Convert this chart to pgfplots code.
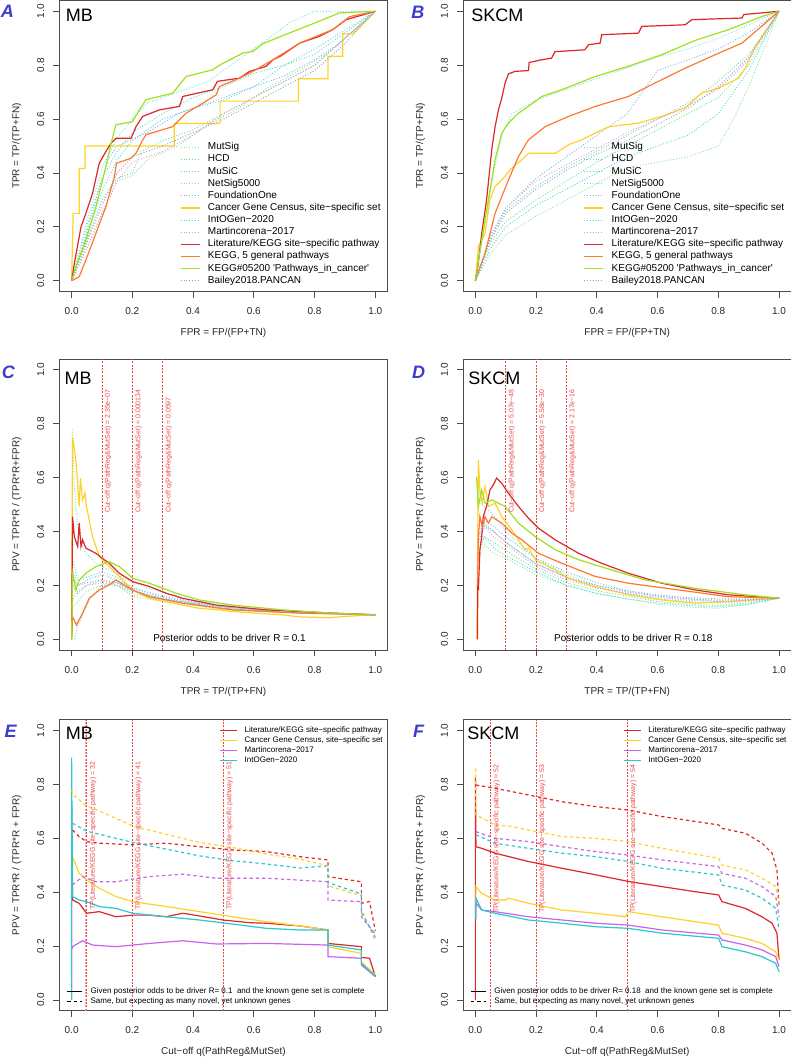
\documentclass[border=0pt]{standalone}
\usepackage{fontspec}
\setmainfont{Liberation Sans}[Ligatures=TeXOff]
\usepackage{pgfplots}
\pgfplotsset{compat=1.18}

\definecolor{litred}{RGB}{220,40,40}
\definecolor{cgcyel}{RGB}{255,210,40}
\definecolor{korange}{RGB}{255,120,50}
\definecolor{kgreen}{RGB}{160,225,30}
\definecolor{mviolet}{RGB}{200,100,235}
\definecolor{icyan}{RGB}{40,200,205}
\definecolor{cMutSig}{RGB}{140,230,140}
\definecolor{cHCD}{RGB}{100,225,140}
\definecolor{cMuSiC}{RGB}{90,220,190}
\definecolor{cNetSig}{RGB}{110,225,225}
\definecolor{cFound}{RGB}{120,180,235}
\definecolor{cIntO}{RGB}{80,215,215}
\definecolor{cMart}{RGB}{225,150,225}
\definecolor{cBailey}{RGB}{150,160,190}
\definecolor{cutred}{RGB}{235,70,70}
\definecolor{lblue}{RGB}{60,60,205}

\tikzset{
  dotl/.style={line width=0.7pt, dash pattern=on 0.7pt off 1.4pt},
  sol/.style={line width=0.9pt},
  dsh/.style={line width=0.9pt, dash pattern=on 2.5pt off 2.2pt},
  cut/.style={line width=0.5pt, cutred, dash pattern=on 1.5pt off 1pt},
  panellabel/.style={font=\fontsize{13.5}{14}\selectfont\bfseries\itshape, text=lblue, inner sep=0pt},
  cancer/.style={font=\fontsize{13.5}{14}\selectfont, anchor=west, inner sep=0pt},
  cuttext/.style={rotate=90, anchor=north west, font=\fontsize{5.2}{6}\selectfont, text=cutred, inner xsep=0pt, inner ysep=2pt},
  oddstext/.style={font=\fontsize{7.5}{9}\selectfont, inner sep=0pt},
}

\pgfplotsset{
  panel/.style={
    scale only axis, width=246pt, height=218.25pt, anchor=south west,
    xmin=-0.04, xmax=1.04, ymin=-0.04, ymax=1.04, clip=false,
    xtick={0,0.2,0.4,0.6,0.8,1}, ytick={0,0.2,0.4,0.6,0.8,1},
    xticklabels={0.0,0.2,0.4,0.6,0.8,1.0}, yticklabels={0.0,0.2,0.4,0.6,0.8,1.0},
    tick align=outside, tick pos=left, major tick length=4.5pt,
    axis line style={line width=0.75pt, black!70},
    tick style={line width=0.6pt, black!70},
    tick label style={font=\fontsize{7.5}{9}\selectfont, text=black!85},
    yticklabel style={rotate=90, anchor=south},
    xticklabel shift=4pt, yticklabel shift=3.4pt,
    label style={font=\fontsize{7.5}{9}\selectfont, text=black!85},
    xlabel style={at={(axis description cs:0.5,-0.143)}, anchor=center},
    ylabel style={at={(axis description cs:-0.13,0.5)}, anchor=center},
  },
  bigleg/.style={
    legend style={at={(0.367,0.515)}, anchor=north west, draw=none, fill=none,
      inner sep=0pt, row sep=1.1pt, font=\fontsize{7.5}{9}\selectfont,
      nodes={inner sep=0.5pt, text height=5.4pt, text depth=1.6pt}},
    legend cell align=left,
    legend image code/.code={\draw[##1] (0pt,0pt) -- (14.25pt,0pt); \path (19.5pt,0pt);},
  },
  smallleg/.style={
    legend style={at={(0.488,0.979)}, anchor=north west, draw=none, fill=none,
      inner sep=0pt, row sep=0.9pt, font=\fontsize{6}{7}\selectfont,
      nodes={inner sep=0.5pt, text height=4.3pt, text depth=1.3pt}},
    legend cell align=left,
    legend image code/.code={\draw[##1] (0pt,0pt) -- (12.75pt,0pt); \path (17.25pt,0pt);},
  },
  noteleg/.style={
    hide axis,
    legend style={at={(0.022,0.082)}, anchor=north west, draw=none, fill=none,
      inner sep=0pt, row sep=0.9pt, font=\fontsize{6}{7}\selectfont,
      nodes={inner sep=0.5pt, text height=4.3pt, text depth=1.3pt}},
    legend cell align=left,
    legend image code/.code={\draw[##1] (0pt,0pt) -- (11.25pt,0pt); \path (16.5pt,0pt);},
  },
}

\begin{document}
\begin{tikzpicture}
\path[use as bounding box] (0,0) rectangle (593.25pt,794.25pt);

% ---------------- A: MB ROC ----------------
\begin{axis}[panel, bigleg, at={(44.6pt,575.6pt)},
  xlabel={FPR = FP/(FP+TN)}, ylabel={TPR = TP/(TP+FN)}]
\addplot[dotl,cMutSig] coordinates {(0,0) (0.05,0.12) (0.1,0.25) (0.15,0.37) (0.2,0.39) (0.25,0.45) (0.35,0.5) (0.45,0.58) (0.55,0.64) (0.65,0.72) (0.75,0.78) (0.85,0.85) (0.95,0.95) (1,1)};
\addlegendentry{MutSig}
\addplot[dotl,cHCD] coordinates {(0,0) (0.05,0.15) (0.1,0.3) (0.15,0.38) (0.2,0.4) (0.23,0.48) (0.3,0.52) (0.4,0.56) (0.5,0.62) (0.6,0.68) (0.7,0.74) (0.8,0.8) (0.9,0.9) (1,1)};
\addlegendentry{HCD}
\addplot[dotl,cMuSiC] coordinates {(0,0) (0.05,0.2) (0.1,0.38) (0.15,0.48) (0.2,0.55) (0.3,0.62) (0.4,0.68) (0.5,0.72) (0.6,0.77) (0.7,0.8) (0.8,0.84) (0.9,0.92) (1,1)};
\addlegendentry{MuSiC}
\addplot[dotl,cNetSig] coordinates {(0,0) (0.05,0.22) (0.1,0.42) (0.15,0.53) (0.2,0.6) (0.25,0.66) (0.35,0.7) (0.45,0.74) (0.55,0.82) (0.65,0.9) (0.72,0.96) (0.8,1) (1,1)};
\addlegendentry{NetSig5000}
\addplot[dotl,cFound] coordinates {(0,0) (0.03,0.1) (0.08,0.3) (0.12,0.45) (0.15,0.5) (0.25,0.55) (0.35,0.62) (0.5,0.68) (0.6,0.72) (0.7,0.76) (0.8,0.82) (0.88,0.88) (0.92,0.92) (1,1)};
\addlegendentry{FoundationOne}
\addplot[sol,cgcyel] coordinates {(0,0) (0.005,0.25) (0.025,0.25) (0.025,0.4167) (0.044,0.4167) (0.044,0.5) (0.338,0.5) (0.338,0.5833) (0.489,0.5833) (0.489,0.6667) (0.747,0.6667) (0.747,0.75) (0.844,0.75) (0.844,0.8333) (0.893,0.8333) (0.893,0.9167) (0.926,0.9167) (1,1)};
\addlegendentry{Cancer Gene Census, site−specific set}
\addplot[dotl,cIntO] coordinates {(0,0) (0.05,0.17) (0.1,0.33) (0.15,0.45) (0.2,0.52) (0.3,0.6) (0.4,0.64) (0.5,0.67) (0.6,0.72) (0.7,0.8) (0.8,0.86) (0.9,0.93) (1,1)};
\addlegendentry{IntOGen−2020}
\addplot[dotl,cMart] coordinates {(0,0) (0.05,0.12) (0.1,0.25) (0.15,0.37) (0.2,0.44) (0.3,0.48) (0.4,0.54) (0.5,0.62) (0.6,0.68) (0.7,0.74) (0.8,0.8) (0.9,0.9) (1,1)};
\addlegendentry{Martincorena−2017}
\addplot[sol,litred] coordinates {(0,0) (0.009,0.064) (0.031,0.2) (0.047,0.25) (0.069,0.325) (0.091,0.436) (0.113,0.48) (0.13,0.51) (0.146,0.529) (0.196,0.529) (0.212,0.572) (0.234,0.61) (0.289,0.634) (0.355,0.647) (0.366,0.684) (0.465,0.709) (0.48,0.74) (0.553,0.752) (0.586,0.777) (0.641,0.796) (0.663,0.82) (0.687,0.833) (0.751,0.882) (0.816,0.907) (0.86,0.932) (0.904,0.969) (1,1)};
\addlegendentry{Literature/KEGG site−specific pathway}
\addplot[sol,korange] coordinates {(0,0) (0.025,0.015) (0.047,0.077) (0.08,0.176) (0.113,0.275) (0.141,0.387) (0.148,0.436) (0.196,0.455) (0.212,0.473) (0.234,0.523) (0.245,0.542) (0.333,0.572) (0.377,0.622) (0.432,0.659) (0.476,0.69) (0.487,0.721) (0.553,0.752) (0.597,0.777) (0.663,0.82) (0.751,0.882) (0.86,0.932) (0.915,0.98) (1,1)};
\addlegendentry{KEGG, 5 general pathways}
\addplot[sol,kgreen] coordinates {(0,0) (0.014,0.052) (0.047,0.151) (0.08,0.275) (0.113,0.424) (0.13,0.51) (0.146,0.579) (0.2,0.59) (0.223,0.634) (0.245,0.672) (0.333,0.696) (0.377,0.758) (0.465,0.783) (0.487,0.8) (0.564,0.845) (0.597,0.851) (0.63,0.88) (0.718,0.92) (0.795,0.954) (0.882,0.994) (1,1)};
\addlegendentry{KEGG\#05200 'Pathways\_in\_cancer'}
\addplot[dotl,cBailey] coordinates {(0,0) (0.05,0.14) (0.1,0.28) (0.15,0.4) (0.2,0.46) (0.3,0.5) (0.4,0.55) (0.5,0.6) (0.6,0.66) (0.7,0.72) (0.8,0.78) (0.9,0.88) (1,1)};
\addlegendentry{Bailey2018.PANCAN}
\node[panellabel] at (axis description cs:-0.159,0.964) {A};
\node[cancer] at (axis cs:-0.02,0.985) {MB};
\end{axis}

% ---------------- B: SKCM ROC ----------------
\begin{axis}[panel, bigleg, at={(347.4pt,575.6pt)},
  xlabel={FPR = FP/(FP+TN)}, ylabel={TPR = TP/(TP+FN)}]
\addplot[dotl,cMutSig] coordinates {(0,0) (0.05,0.1) (0.1,0.17) (0.2,0.24) (0.3,0.3) (0.4,0.36) (0.5,0.42) (0.6,0.44) (0.7,0.46) (0.8,0.5) (0.85,0.6) (0.9,0.72) (0.95,0.86) (1,1)};
\addlegendentry{MutSig}
\addplot[dotl,cHCD] coordinates {(0,0) (0.05,0.14) (0.1,0.22) (0.2,0.3) (0.3,0.37) (0.4,0.44) (0.5,0.5) (0.6,0.56) (0.7,0.62) (0.8,0.68) (0.9,0.8) (1,1)};
\addlegendentry{HCD}
\addplot[dotl,cMuSiC] coordinates {(0,0) (0.05,0.16) (0.1,0.26) (0.2,0.35) (0.3,0.42) (0.4,0.48) (0.5,0.54) (0.6,0.6) (0.7,0.66) (0.8,0.74) (0.9,0.84) (1,1)};
\addlegendentry{MuSiC}
\addplot[dotl,cNetSig] coordinates {(0,0) (0.03,0.2) (0.06,0.4) (0.09,0.55) (0.12,0.62) (0.2,0.67) (0.3,0.71) (0.4,0.75) (0.5,0.79) (0.6,0.83) (0.7,0.86) (0.8,0.9) (0.9,0.95) (1,1)};
\addlegendentry{NetSig5000}
\addplot[dotl,cFound] coordinates {(0,0) (0.05,0.16) (0.1,0.27) (0.2,0.38) (0.3,0.46) (0.4,0.54) (0.5,0.62) (0.55,0.7) (0.6,0.78) (0.7,0.82) (0.8,0.86) (0.9,0.92) (1,1)};
\addlegendentry{FoundationOne}
\addplot[sol,cgcyel] coordinates {(0,0) (0.01,0.126) (0.032,0.176) (0.048,0.3) (0.065,0.349) (0.087,0.374) (0.12,0.418) (0.153,0.449) (0.175,0.473) (0.263,0.473) (0.307,0.505) (0.351,0.523) (0.395,0.548) (0.44,0.572) (0.537,0.585) (0.614,0.61) (0.691,0.641) (0.746,0.697) (0.801,0.715) (0.867,0.752) (0.889,0.789) (0.922,0.87) (1,1)};
\addlegendentry{Cancer Gene Census, site−specific set}
\addplot[dotl,cIntO] coordinates {(0,0) (0.05,0.12) (0.1,0.2) (0.2,0.28) (0.3,0.34) (0.4,0.4) (0.5,0.46) (0.6,0.5) (0.7,0.54) (0.8,0.62) (0.9,0.78) (1,1)};
\addlegendentry{IntOGen−2020}
\addplot[dotl,cMart] coordinates {(0,0) (0.05,0.17) (0.1,0.27) (0.2,0.37) (0.3,0.43) (0.4,0.49) (0.5,0.55) (0.6,0.6) (0.7,0.65) (0.8,0.71) (0.9,0.82) (1,1)};
\addlegendentry{Martincorena−2017}
\addplot[sol,litred] coordinates {(0,0) (0.008,0.05) (0.021,0.176) (0.037,0.3) (0.054,0.486) (0.065,0.572) (0.076,0.634) (0.087,0.678) (0.098,0.734) (0.109,0.768) (0.131,0.777) (0.175,0.78) (0.177,0.81) (0.218,0.82) (0.251,0.826) (0.262,0.85) (0.36,0.857) (0.373,0.876) (0.411,0.882) (0.416,0.913) (0.537,0.919) (0.548,0.944) (0.691,0.95) (0.713,0.969) (0.878,0.975) (0.884,0.988) (1,1)};
\addlegendentry{Literature/KEGG site−specific pathway}
\addplot[sol,korange] coordinates {(0,0) (0.032,0.102) (0.065,0.25) (0.109,0.374) (0.142,0.461) (0.175,0.523) (0.23,0.572) (0.307,0.61) (0.395,0.647) (0.504,0.684) (0.592,0.734) (0.68,0.783) (0.79,0.839) (0.878,0.882) (1,1)};
\addlegendentry{KEGG, 5 general pathways}
\addplot[sol,kgreen] coordinates {(0,0) (0.021,0.151) (0.043,0.3) (0.065,0.449) (0.087,0.548) (0.109,0.585) (0.142,0.622) (0.175,0.647) (0.219,0.684) (0.285,0.709) (0.395,0.758) (0.504,0.796) (0.614,0.839) (0.724,0.892) (0.834,0.932) (0.944,0.981) (1,1)};
\addlegendentry{KEGG\#05200 'Pathways\_in\_cancer'}
\addplot[dotl,cBailey] coordinates {(0,0) (0.05,0.15) (0.1,0.25) (0.2,0.34) (0.3,0.41) (0.4,0.47) (0.5,0.52) (0.6,0.58) (0.7,0.64) (0.8,0.72) (0.9,0.83) (1,1)};
\addlegendentry{Bailey2018.PANCAN}
\node[panellabel] at (axis description cs:-0.138,0.96) {B};
\node[cancer] at (axis cs:-0.014,0.985) {SKCM};
\end{axis}

% ---------------- C: MB PPV vs TPR ----------------
\begin{axis}[panel, at={(44.6pt,306.7pt)},
  xlabel={TPR = TP/(TP+FN)}, ylabel={PPV = TPR*R / (TPR*R+FPR)}]
\addplot[cut] coordinates {(0.1,-0.04) (0.1,1.04)};
\addplot[cut] coordinates {(0.2,-0.04) (0.2,1.04)};
\addplot[cut] coordinates {(0.3,-0.04) (0.3,1.04)};
\addplot[dotl,cMutSig] coordinates {(0.005,0.12) (0.02,0.14) (0.05,0.18) (0.1,0.2) (0.15,0.2) (0.2,0.16) (0.3,0.14) (0.5,0.11) (0.7,0.1) (1,0.0909)};
\addplot[dotl,cHCD] coordinates {(0.005,0.2) (0.02,0.17) (0.05,0.2) (0.1,0.22) (0.15,0.2) (0.2,0.17) (0.3,0.145) (0.5,0.115) (0.7,0.1) (1,0.0909)};
\addplot[dotl,cMuSiC] coordinates {(0.003,0.3) (0.02,0.22) (0.05,0.23) (0.1,0.25) (0.15,0.23) (0.2,0.19) (0.3,0.155) (0.5,0.12) (0.7,0.105) (1,0.0909)};
\addplot[dotl,cNetSig] coordinates {(0.002,0.78) (0.01,0.55) (0.02,0.42) (0.04,0.33) (0.08,0.28) (0.12,0.26) (0.18,0.22) (0.25,0.19) (0.4,0.145) (0.6,0.115) (0.8,0.1) (1,0.0909)};
\addplot[dotl,cFound] coordinates {(0.005,0.25) (0.02,0.2) (0.05,0.22) (0.1,0.24) (0.15,0.22) (0.2,0.19) (0.3,0.16) (0.5,0.12) (0.7,0.105) (1,0.0909)};
\addplot[sol,cgcyel] coordinates {(0,0) (0.003,0.752) (0.014,0.666) (0.025,0.493) (0.029,0.598) (0.036,0.517) (0.044,0.542) (0.049,0.493) (0.069,0.381) (0.091,0.307) (0.124,0.27) (0.157,0.233) (0.201,0.183) (0.256,0.152) (0.333,0.134) (0.42,0.115) (0.487,0.109) (0.53,0.103) (0.7,0.09) (0.75,0.083) (0.85,0.08) (0.9,0.085) (1,0.0909)};
\addplot[dotl,cIntO] coordinates {(0.01,0.0) (0.02,0.05) (0.04,0.1) (0.06,0.15) (0.1,0.2) (0.15,0.21) (0.2,0.18) (0.3,0.15) (0.5,0.115) (0.7,0.1) (1,0.0909)};
\addplot[dotl,cMart] coordinates {(0.005,0.15) (0.02,0.18) (0.05,0.2) (0.1,0.21) (0.15,0.2) (0.2,0.18) (0.3,0.15) (0.5,0.115) (0.7,0.1) (1,0.0909)};
\addplot[sol,litred] coordinates {(0,0) (0.003,0.455) (0.009,0.381) (0.02,0.344) (0.025,0.431) (0.031,0.344) (0.036,0.369) (0.047,0.338) (0.058,0.332) (0.08,0.319) (0.102,0.3) (0.124,0.282) (0.157,0.245) (0.201,0.214) (0.256,0.196) (0.311,0.171) (0.366,0.152) (0.476,0.127) (0.641,0.109) (0.86,0.097) (1,0.0909)};
\addplot[sol,korange] coordinates {(0,0) (0.003,0.084) (0.016,0.053) (0.036,0.097) (0.058,0.152) (0.091,0.183) (0.124,0.202) (0.146,0.22) (0.201,0.183) (0.256,0.158) (0.366,0.134) (0.53,0.109) (0.751,0.097) (1,0.0909)};
\addplot[sol,kgreen] coordinates {(0,0) (0.003,0.25) (0.014,0.183) (0.025,0.22) (0.047,0.245) (0.08,0.27) (0.124,0.288) (0.157,0.27) (0.201,0.226) (0.256,0.208) (0.344,0.171) (0.42,0.146) (0.53,0.127) (0.696,0.109) (0.86,0.097) (1,0.0909)};
\addplot[dotl,cBailey] coordinates {(0.005,0.22) (0.02,0.2) (0.05,0.21) (0.1,0.22) (0.15,0.21) (0.2,0.18) (0.3,0.15) (0.5,0.12) (0.7,0.1) (1,0.0909)};
\node[cuttext] at (axis cs:0.1,0.468) {Cut−off q(PathReg\&MutSet) = 2.35e−07};
\node[cuttext] at (axis cs:0.2,0.468) {Cut−off q(PathReg\&MutSet) = 0.000134};
\node[cuttext] at (axis cs:0.3,0.468) {Cut−off q(PathReg\&MutSet) = 0.0597};
\node[oddstext] at (axis cs:0.52,0.004) {Posterior odds to be driver R = 0.1};
\node[panellabel] at (axis description cs:-0.156,0.956) {C};
\node[cancer] at (axis cs:-0.024,0.968) {MB};
\end{axis}

% ---------------- D: SKCM PPV vs TPR ----------------
\begin{axis}[panel, at={(347.4pt,306.7pt)},
  xlabel={TPR = TP/(TP+FN)}, ylabel={PPV = TPR*R / (TPR*R+FPR)}]
\addplot[cut] coordinates {(0.1,-0.04) (0.1,1.04)};
\addplot[cut] coordinates {(0.2,-0.04) (0.2,1.04)};
\addplot[cut] coordinates {(0.3,-0.04) (0.3,1.04)};
\addplot[dotl,cMutSig] coordinates {(0.01,0.3) (0.03,0.35) (0.06,0.32) (0.1,0.3) (0.2,0.24) (0.3,0.2) (0.4,0.17) (0.5,0.15) (0.6,0.13) (0.7,0.12) (0.8,0.115) (0.9,0.13) (1,0.1525)};
\addplot[dotl,cHCD] coordinates {(0.01,0.35) (0.03,0.38) (0.06,0.36) (0.1,0.33) (0.2,0.26) (0.3,0.21) (0.4,0.18) (0.5,0.16) (0.6,0.14) (0.7,0.13) (0.8,0.125) (0.9,0.135) (1,0.1525)};
\addplot[dotl,cMuSiC] coordinates {(0.01,0.38) (0.03,0.42) (0.06,0.4) (0.1,0.36) (0.2,0.28) (0.3,0.23) (0.4,0.19) (0.5,0.17) (0.6,0.15) (0.7,0.14) (0.8,0.135) (0.9,0.14) (1,0.1525)};
\addplot[dotl,cNetSig] coordinates {(0.005,0.6) (0.02,0.5) (0.04,0.48) (0.06,0.46) (0.1,0.4) (0.2,0.3) (0.3,0.24) (0.4,0.2) (0.5,0.18) (0.6,0.16) (0.7,0.15) (0.8,0.14) (0.9,0.145) (1,0.1525)};
\addplot[dotl,cFound] coordinates {(0.01,0.4) (0.03,0.44) (0.06,0.42) (0.1,0.38) (0.2,0.3) (0.3,0.25) (0.4,0.21) (0.5,0.18) (0.6,0.165) (0.7,0.155) (0.8,0.15) (0.9,0.15) (1,0.1525)};
\addplot[sol,cgcyel] coordinates {(0.005,0) (0.01,0.666) (0.015,0.554) (0.023,0.505) (0.032,0.567) (0.043,0.493) (0.065,0.505) (0.087,0.455) (0.12,0.406) (0.164,0.332) (0.175,0.34) (0.197,0.295) (0.263,0.257) (0.307,0.226) (0.395,0.196) (0.504,0.165) (0.614,0.146) (0.724,0.134) (0.834,0.14) (1,0.1525)};
\addplot[dotl,cIntO] coordinates {(0.01,0.32) (0.03,0.38) (0.06,0.34) (0.1,0.31) (0.2,0.25) (0.3,0.2) (0.4,0.17) (0.5,0.15) (0.6,0.135) (0.7,0.125) (0.8,0.12) (0.9,0.13) (1,0.1525)};
\addplot[dotl,cMart] coordinates {(0.01,0.36) (0.03,0.42) (0.06,0.38) (0.1,0.35) (0.2,0.27) (0.3,0.22) (0.4,0.19) (0.5,0.17) (0.6,0.155) (0.7,0.145) (0.8,0.14) (0.9,0.145) (1,0.1525)};
\addplot[sol,litred] coordinates {(0.007,0) (0.008,0.208) (0.01,0.183) (0.015,0.332) (0.021,0.381) (0.026,0.455) (0.037,0.493) (0.048,0.554) (0.059,0.573) (0.07,0.598) (0.087,0.579) (0.109,0.542) (0.142,0.493) (0.175,0.449) (0.208,0.412) (0.263,0.369) (0.34,0.319) (0.416,0.282) (0.504,0.245) (0.614,0.208) (0.724,0.183) (0.834,0.165) (1,0.1525)};
\addplot[sol,korange] coordinates {(0.007,0.2) (0.01,0.381) (0.015,0.455) (0.023,0.418) (0.032,0.455) (0.043,0.431) (0.054,0.455) (0.087,0.431) (0.12,0.394) (0.153,0.369) (0.208,0.319) (0.285,0.282) (0.395,0.233) (0.504,0.208) (0.67,0.183) (0.834,0.158) (1,0.1525)};
\addplot[sol,kgreen] coordinates {(0.004,0.604) (0.01,0.493) (0.021,0.554) (0.032,0.505) (0.054,0.517) (0.065,0.511) (0.098,0.493) (0.142,0.431) (0.197,0.381) (0.263,0.332) (0.34,0.295) (0.45,0.257) (0.56,0.22) (0.724,0.189) (0.889,0.165) (1,0.1525)};
\addplot[dotl,cBailey] coordinates {(0.01,0.38) (0.03,0.43) (0.06,0.4) (0.1,0.36) (0.2,0.28) (0.3,0.23) (0.4,0.2) (0.5,0.175) (0.6,0.16) (0.7,0.15) (0.8,0.145) (0.9,0.148) (1,0.1525)};
\node[cuttext] at (axis cs:0.1,0.468) {Cut−off q(PathReg\&MutSet) = 5.07e−48};
\node[cuttext] at (axis cs:0.2,0.468) {Cut−off q(PathReg\&MutSet) = 5.58e−30};
\node[cuttext] at (axis cs:0.3,0.468) {Cut−off q(PathReg\&MutSet) = 2.17e−16};
\node[oddstext] at (axis cs:0.52,0.004) {Posterior odds to be driver R = 0.18};
\node[panellabel] at (axis description cs:-0.136,0.956) {D};
\node[cancer] at (axis cs:-0.024,0.968) {SKCM};
\end{axis}

% ---------------- E: MB PPV vs cut-off ----------------
\begin{axis}[panel, smallleg, at={(44.6pt,36.15pt)},
  xlabel={Cut−off q(PathReg\&MutSet)}, ylabel={PPV = TPR*R / (TPR*R + FPR)}]
\addplot[cut, cutred!45, forget plot] coordinates {(0.045,-0.04) (0.045,1.04)};
\addplot[cut, forget plot] coordinates {(0.05,-0.04) (0.05,1.04)};
\addplot[cut, forget plot] coordinates {(0.2,-0.04) (0.2,1.04)};
\addplot[cut, forget plot] coordinates {(0.5,-0.04) (0.5,1.04)};
\addplot[sol,litred] coordinates {(0,0) (0,0.72) (0.003,0.371) (0.025,0.359) (0.049,0.322) (0.091,0.328) (0.146,0.309) (0.201,0.315) (0.256,0.315) (0.311,0.309) (0.366,0.322) (0.421,0.312) (0.498,0.297) (0.586,0.287) (0.641,0.285) (0.751,0.275) (0.844,0.26) (0.844,0.21) (0.954,0.198) (0.954,0.158) (0.981,0.155) (1,0.087)};
\addlegendentry{Literature/KEGG site−specific pathway}
\addplot[sol,cgcyel] coordinates {(0.001,0.45) (0.003,0.532) (0.025,0.47) (0.058,0.439) (0.091,0.415) (0.146,0.384) (0.201,0.365) (0.311,0.347) (0.421,0.328) (0.53,0.309) (0.641,0.291) (0.751,0.275) (0.844,0.26) (0.844,0.198) (0.954,0.173) (0.954,0.142) (1,0.093)};
\addlegendentry{Cancer Gene Census, site−specific set}
\addplot[sol,mviolet] coordinates {(0.001,0.19) (0.003,0.198) (0.036,0.22) (0.069,0.204) (0.146,0.198) (0.256,0.21) (0.366,0.22) (0.476,0.208) (0.641,0.21) (0.844,0.204) (0.844,0.161) (0.954,0.155) (0.954,0.13) (1,0.087)};
\addlegendentry{Martincorena−2017}
\addplot[sol,icyan] coordinates {(0,0) (0,0.9) (0.003,0.384) (0.025,0.371) (0.049,0.365) (0.091,0.347) (0.146,0.34) (0.201,0.322) (0.311,0.309) (0.421,0.297) (0.53,0.282) (0.641,0.266) (0.751,0.26) (0.844,0.26) (0.844,0.204) (0.954,0.186) (0.954,0.136) (1,0.089)};
\addlegendentry{IntOGen−2020}
\addplot[dsh,litred, forget plot] coordinates {(0.003,0.631) (0.025,0.606) (0.049,0.588) (0.091,0.582) (0.201,0.576) (0.311,0.582) (0.421,0.569) (0.53,0.557) (0.641,0.551) (0.751,0.532) (0.844,0.52) (0.844,0.458) (0.954,0.439) (0.954,0.359) (0.981,0.365) (1,0.257)};
\addplot[dsh,cgcyel, forget plot] coordinates {(0.001,0.78) (0.003,0.764) (0.049,0.72) (0.091,0.702) (0.201,0.646) (0.311,0.615) (0.421,0.585) (0.53,0.566) (0.641,0.542) (0.751,0.523) (0.844,0.498) (0.844,0.424) (0.954,0.387) (0.954,0.337) (1,0.22)};
\addplot[dsh,mviolet, forget plot] coordinates {(0.003,0.427) (0.036,0.458) (0.08,0.439) (0.146,0.439) (0.256,0.458) (0.366,0.467) (0.476,0.452) (0.641,0.452) (0.844,0.439) (0.844,0.371) (0.954,0.365) (0.954,0.309) (1,0.245)};
\addplot[dsh,icyan, forget plot] coordinates {(0.003,0.656) (0.049,0.627) (0.091,0.615) (0.201,0.585) (0.311,0.56) (0.421,0.535) (0.53,0.517) (0.641,0.505) (0.751,0.49) (0.844,0.498) (0.844,0.436) (0.954,0.394) (0.954,0.325) (1,0.233)};
\node[cuttext, font=\fontsize{5.2}{6}\selectfont] at (axis cs:0.05,0.334) {TP(Literature/KEGG site−specific pathway) = 32};
\node[cuttext, font=\fontsize{5.2}{6}\selectfont] at (axis cs:0.2,0.334) {TP(Literature/KEGG site−specific pathway) = 41};
\node[cuttext, font=\fontsize{5.2}{6}\selectfont] at (axis cs:0.5,0.334) {TP(Literature/KEGG site−specific pathway) = 51};
\node[panellabel] at (axis description cs:-0.149,0.959) {E};
\node[cancer] at (axis cs:-0.02,0.99) {MB};
\end{axis}
\begin{axis}[panel, noteleg, at={(44.6pt,36.15pt)}]
\addplot[draw=none, forget plot] coordinates {(0,0)};
\addlegendimage{line width=0.7pt, black}
\addlegendentry{Given posterior odds to be driver R=~0.1~~and the known gene set is complete}
\addlegendimage{line width=0.7pt, black, dash pattern=on 2.5pt off 2.2pt}
\addlegendentry{Same, but expecting as many novel, yet unknown genes}
\end{axis}

% ---------------- F: SKCM PPV vs cut-off ----------------
\begin{axis}[panel, smallleg, at={(347.4pt,36.15pt)},
  xlabel={Cut−off q(PathReg\&MutSet)}, ylabel={PPV = TPR*R / (TPR*R + FPR)}]
\addplot[cut, forget plot] coordinates {(0.05,-0.04) (0.05,1.04)};
\addplot[cut, forget plot] coordinates {(0.2,-0.04) (0.2,1.04)};
\addplot[cut, forget plot] coordinates {(0.5,-0.04) (0.5,1.04)};
\addplot[sol,litred] coordinates {(0,0) (0,0.83) (0.002,0.569) (0.021,0.563) (0.065,0.545) (0.175,0.514) (0.285,0.489) (0.395,0.465) (0.504,0.44) (0.614,0.421) (0.724,0.402) (0.801,0.39) (0.812,0.365) (0.889,0.34) (0.944,0.309) (0.977,0.285) (0.993,0.248) (1,0.149)};
\addlegendentry{Literature/KEGG site−specific pathway}
\addplot[sol,cgcyel] coordinates {(0.001,0.3) (0.002,0.421) (0.021,0.396) (0.065,0.371) (0.098,0.371) (0.109,0.378) (0.175,0.359) (0.285,0.334) (0.395,0.322) (0.493,0.309) (0.504,0.328) (0.614,0.309) (0.801,0.278) (0.812,0.248) (0.889,0.229) (0.944,0.21) (0.989,0.179) (1,0.149)};
\addlegendentry{Cancer Gene Census, site−specific set}
\addplot[sol,mviolet] coordinates {(0.001,0.3) (0.002,0.359) (0.021,0.334) (0.065,0.328) (0.175,0.309) (0.285,0.297) (0.395,0.285) (0.504,0.278) (0.614,0.26) (0.801,0.241) (0.812,0.223) (0.889,0.204) (0.944,0.186) (0.989,0.161) (1,0.124)};
\addlegendentry{Martincorena−2017}
\addplot[sol,icyan] coordinates {(0.001,0.3) (0.002,0.377) (0.021,0.334) (0.065,0.322) (0.175,0.297) (0.285,0.285) (0.395,0.272) (0.504,0.266) (0.614,0.248) (0.801,0.229) (0.812,0.198) (0.889,0.179) (0.944,0.161) (0.989,0.136) (1,0.105)};
\addlegendentry{IntOGen−2020}
\addplot[dsh,litred, forget plot] coordinates {(0.002,0.798) (0.065,0.786) (0.175,0.761) (0.285,0.736) (0.395,0.718) (0.504,0.705) (0.614,0.681) (0.801,0.65) (0.812,0.637) (0.889,0.619) (0.944,0.582) (0.977,0.545) (0.993,0.483) (1,0.347)};
\addplot[dsh,cgcyel, forget plot] coordinates {(0.001,0.86) (0.002,0.687) (0.065,0.65) (0.12,0.644) (0.175,0.631) (0.285,0.607) (0.395,0.6) (0.504,0.588) (0.614,0.563) (0.801,0.526) (0.812,0.501) (0.889,0.483) (0.944,0.452) (0.989,0.421) (1,0.359)};
\addplot[dsh,mviolet, forget plot] coordinates {(0.002,0.625) (0.065,0.6) (0.175,0.588) (0.285,0.569) (0.395,0.551) (0.504,0.538) (0.614,0.52) (0.801,0.495) (0.812,0.47) (0.889,0.452) (0.944,0.421) (0.989,0.384) (1,0.309)};
\addplot[dsh,icyan, forget plot] coordinates {(0.002,0.613) (0.065,0.582) (0.175,0.563) (0.285,0.545) (0.395,0.532) (0.504,0.514) (0.614,0.489) (0.801,0.464) (0.812,0.427) (0.889,0.408) (0.944,0.378) (0.989,0.34) (1,0.26)};
\node[cuttext, font=\fontsize{5.2}{6}\selectfont] at (axis cs:0.05,0.322) {TP(Literature/KEGG site−specific pathway) = 52};
\node[cuttext, font=\fontsize{5.2}{6}\selectfont] at (axis cs:0.2,0.322) {TP(Literature/KEGG site−specific pathway) = 53};
\node[cuttext, font=\fontsize{5.2}{6}\selectfont] at (axis cs:0.5,0.322) {TP(Literature/KEGG site−specific pathway) = 54};
\node[panellabel] at (axis description cs:-0.136,0.961) {F};
\node[cancer] at (axis cs:-0.027,0.99) {SKCM};
\end{axis}
\begin{axis}[panel, noteleg, at={(347.4pt,36.15pt)}]
\addplot[draw=none, forget plot] coordinates {(0,0)};
\addlegendimage{line width=0.7pt, black}
\addlegendentry{Given posterior odds to be driver R=~0.18~~and the known gene set is complete}
\addlegendimage{line width=0.7pt, black, dash pattern=on 2.5pt off 2.2pt}
\addlegendentry{Same, but expecting as many novel, yet unknown genes}
\end{axis}
\end{tikzpicture}
\end{document}
